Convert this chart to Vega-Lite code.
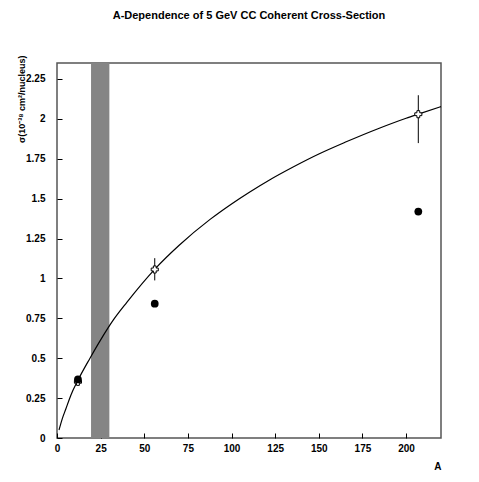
{
  "$schema": "https://vega.github.io/schema/vega-lite/v6.json",
  "width": 384,
  "height": 375,
  "autosize": {"type": "none"},
  "padding": {"left": 57, "top": 63, "right": 38, "bottom": 44},
  "title": {
    "text": "A-Dependence of 5 GeV CC Coherent Cross-Section",
    "font": "Liberation Sans",
    "fontSize": 11,
    "fontWeight": "bold",
    "color": "#000",
    "offset": 34,
    "anchor": "middle"
  },
  "config": {
    "view": {"stroke": "#555", "strokeWidth": 1.5},
    "font": "Liberation Sans",
    "axis": {
      "labelFont": "Liberation Sans",
      "labelFontWeight": "bold",
      "labelFontSize": 10,
      "labelColor": "#000",
      "titleFont": "Liberation Sans",
      "titleFontWeight": "bold",
      "titleColor": "#000",
      "domain": false,
      "grid": false,
      "tickColor": "#000",
      "tickWidth": 1,
      "labelOverlap": false,
      "labelFlush": false,
      "tickCount": 1000
    }
  },
  "datasets": {
    "band": [{"a0": 19.5, "a1": 30}],
    "curve": [
      {"A": 1.15, "s": 0.05}, {"A": 3, "s": 0.12}, {"A": 5, "s": 0.18}, {"A": 8, "s": 0.27},
      {"A": 11.9, "s": 0.36}, {"A": 18.9, "s": 0.5}, {"A": 25, "s": 0.615},
      {"A": 32.3, "s": 0.74}, {"A": 40, "s": 0.85}, {"A": 56.2, "s": 1.06},
      {"A": 70, "s": 1.208}, {"A": 87.7, "s": 1.37}, {"A": 100, "s": 1.467},
      {"A": 110, "s": 1.539}, {"A": 122, "s": 1.619}, {"A": 135, "s": 1.697},
      {"A": 150, "s": 1.78}, {"A": 165, "s": 1.853}, {"A": 185, "s": 1.943},
      {"A": 200, "s": 2.004}, {"A": 207, "s": 2.03}, {"A": 220, "s": 2.077}
    ],
    "pred": [
      {"A": 12, "s": 0.352, "lo": 0.34, "hi": 0.365},
      {"A": 56, "s": 1.056, "lo": 0.9875, "hi": 1.127},
      {"A": 207, "s": 2.029, "lo": 1.848, "hi": 2.148}
    ],
    "meas": [
      {"A": 12, "s": 0.367},
      {"A": 56, "s": 0.842},
      {"A": 207, "s": 1.419}
    ]
  },
  "layer": [
    {
      "data": {"name": "band"},
      "mark": {"type": "rect", "fill": "#858585"},
      "encoding": {
        "x": {
          "field": "a0", "type": "quantitative",
          "scale": {"domain": [0, 220], "nice": false, "zero": false},
          "axis": {
            "orient": "bottom",
            "tickCount": 1000,
            "format": "d",
            "values": [0, 25, 50, 75, 100, 125, 150, 175, 200],
            "tickSize": -5,
            "labelPadding": 10,
            "title": "A", "titleAnchor": "end", "titleFontSize": 10, "titlePadding": 8
          }
        },
        "x2": {"field": "a1"}
      }
    },
    {
      "data": {"name": "curve"},
      "mark": {"type": "line", "color": "#000", "strokeWidth": 1.2, "interpolate": "monotone"},
      "encoding": {
        "x": {"field": "A", "type": "quantitative"},
        "y": {
          "field": "s", "type": "quantitative",
          "scale": {"domain": [0, 2.35], "nice": false, "zero": false},
          "axis": {
            "orient": "left",
            "tickCount": 1000,
            "values": [0, 0.25, 0.5, 0.75, 1, 1.25, 1.5, 1.75, 2, 2.25],
            "format": "~g",
            "tickSize": -5,
            "labelPadding": 17,
            "title": "σ(10⁻³⁸ cm²/nucleus)",
            "titleFontSize": 9,
            "titleAngle": -90,
            "titleAlign": "right",
            "titleBaseline": "bottom",
            "titleX": -31,
            "titleY": -8
          }
        }
      }
    },
    {
      "data": {"name": "pred"},
      "mark": {"type": "rule", "color": "#000", "strokeWidth": 1},
      "encoding": {
        "x": {"field": "A", "type": "quantitative"},
        "y": {"field": "lo", "type": "quantitative"},
        "y2": {"field": "hi"}
      }
    },
    {
      "data": {"name": "pred"},
      "mark": {"type": "point", "shape": "cross", "filled": false, "fill": "#fff", "fillOpacity": 1, "stroke": "#000", "strokeWidth": 1, "size": 50, "opacity": 1},
      "encoding": {
        "x": {"field": "A", "type": "quantitative"},
        "y": {"field": "s", "type": "quantitative"}
      }
    },
    {
      "data": {"name": "meas"},
      "mark": {"type": "point", "shape": "circle", "filled": true, "color": "#000", "size": 60, "opacity": 1},
      "encoding": {
        "x": {"field": "A", "type": "quantitative"},
        "y": {"field": "s", "type": "quantitative"}
      }
    }
  ]
}
